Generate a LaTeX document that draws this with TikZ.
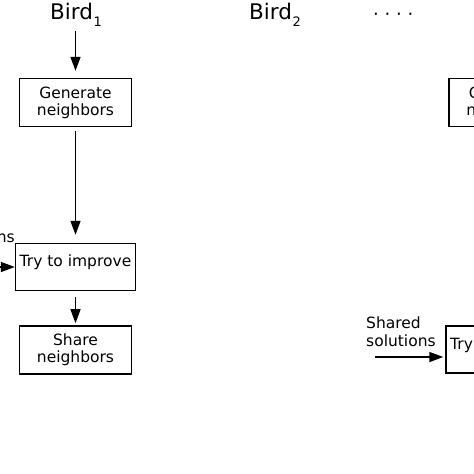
\documentclass[tikz,border=0pt]{standalone}
\usepackage{fontspec}
\setmainfont{DejaVu Sans}
\usetikzlibrary{arrows.meta}
\usetikzlibrary{calc}
\usetikzlibrary{positioning}

\newcommand{\birdsub}[1]{\kern0.5pt\raisebox{-7pt}{\fontsize{13}{13}\selectfont #1}}

\begin{document}
\begin{tikzpicture}[x=1pt,y=-1pt,
      box/.style={rectangle,draw,line width=1.4pt,minimum width=112pt,minimum height=48pt,inner sep=0pt,align=center,font=\fontsize{15.5}{17}\selectfont},
      trybox/.style={box,minimum width=120pt,minimum height=47pt,text depth=12pt},
      bird/.style={anchor=base west,inner sep=0pt,font=\fontsize{21.5}{21.5}\selectfont},
      shared/.style={inner sep=0pt,align=left,font=\fontsize{15.5}{18}\selectfont},
      flow/.style={>={Triangle[length=14pt,width=10pt]},->,line width=1.4pt},
  ]
  \useasboundingbox (0,0) rectangle (474,474);
  \clip (0,0) rectangle (474,474);

  % Titles
  \node[bird] (bird1) at (50,19) {Bird\birdsub{1}};
  \node[bird] (bird2) at (249,19) {Bird\birdsub{2}};
  \node[bird,font=\fontsize{18}{18}\selectfont] (dots) at (373,20) {· · · ·};

  % Bird 1
  \node[box] (gen1) at (75.5,102.5) {Generate\\neighbors};
  \node[trybox] (try1) at (75.5,267) {Try to improve};
  \node[box,below=34pt of try1] (share1) {Share\\neighbors};

  \node[shared,anchor=north east] (in1) at (15,212.5) {Shared\\solutions};
  \coordinate (src1) at (-30,267);

  \draw[flow,shorten <=5pt,shorten >=7pt] (bird1.south -| gen1.north) -- (gen1);
  \draw[flow,shorten <=4pt,shorten >=8pt] (gen1) -- (try1);
  \draw[flow,shorten <=6pt,shorten >=2pt] (try1) -- (share1);
  \draw[flow] (src1) -- (try1);

  % next bird
  \node[box] (gen2) at (505,102.5) {Generate\\neighbors};
  \node[trybox] (try2) at (506,349.5) {Try to improve};

  \node[shared,anchor=north west] (in2) at (366,316.5) {Shared\\solutions};
  \coordinate (src2) at (375,357);
  \draw[flow,shorten >=2pt] (src2) -- (src2 -| try2.west);
\end{tikzpicture}
\end{document}
